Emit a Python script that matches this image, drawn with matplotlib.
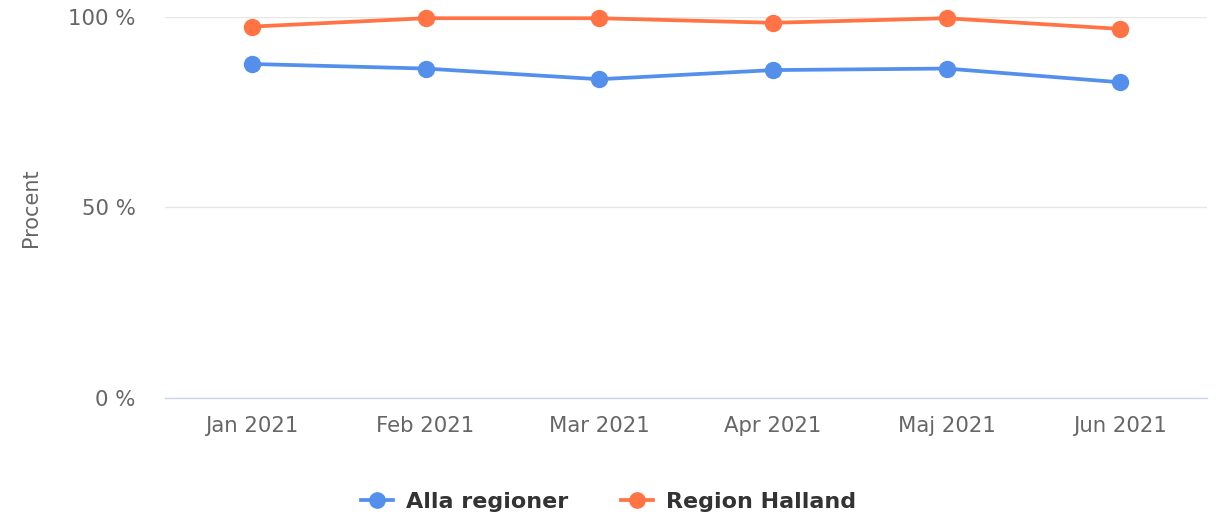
import matplotlib
matplotlib.use("Agg")
import matplotlib.pyplot as plt
from matplotlib.lines import Line2D

categories = ["Jan 2021", "Feb 2021", "Mar 2021", "Apr 2021", "Maj 2021", "Jun 2021"]
alla_regioner = [87.6, 86.4, 83.6, 86.0, 86.4, 82.8]
region_halland = [97.4, 99.6, 99.6, 98.4, 99.6, 96.8]
y_ticks = [0, 50, 100]
y_tick_labels = ["0 %", "50 %", "100 %"]

blue = "#5490eb"
orange = "#ff7345"

W, H = 1217, 519
fig = plt.figure(figsize=(W / 100, H / 100), dpi=100)
ax = fig.add_axes([165 / W, (H - 398) / H, (1207 - 165) / W, (398 - 16.7) / H])

x = list(range(len(categories)))
ax.plot(x, alla_regioner, color=blue, lw=2.7, marker="o", ms=11.5, clip_on=False, zorder=3)
ax.plot(x, region_halland, color=orange, lw=2.7, marker="o", ms=11.5, clip_on=False, zorder=3)

ax.set_xlim(-0.5, len(categories) - 0.5)
ax.set_ylim(0, 100)
ax.set_xticks(x)
ax.set_xticklabels(categories)
ax.set_yticks(y_ticks)
ax.set_yticklabels(y_tick_labels)
ax.tick_params(axis="both", length=0, labelsize=15.3, colors="#666666")
ax.tick_params(axis="x", pad=13)
ax.tick_params(axis="y", pad=21)

for s in ["top", "right", "left"]:
    ax.spines[s].set_visible(False)
ax.spines["bottom"].set_color("#ccd6eb")
ax.spines["bottom"].set_linewidth(1)
ax.grid(axis="y", color="#e6e6e6", lw=1)
ax.set_axisbelow(True)

ax.set_ylabel("Procent", fontsize=15, color="#666666", labelpad=20)

handles = [
    Line2D([0], [0], color=blue, lw=2.7, marker="o", ms=11),
    Line2D([0], [0], color=orange, lw=2.7, marker="o", ms=11),
]
fig.legend(handles, ["Alla regioner", "Region Halland"], loc="center",
           bbox_to_anchor=(0.5, (H - 502) / H), ncol=2, frameon=False,
           prop={"weight": "bold", "size": 16}, labelcolor="#333333",
           handlelength=1.45, handletextpad=0.6, columnspacing=2.35)

fig.savefig("out.png", dpi=100, facecolor="white")
